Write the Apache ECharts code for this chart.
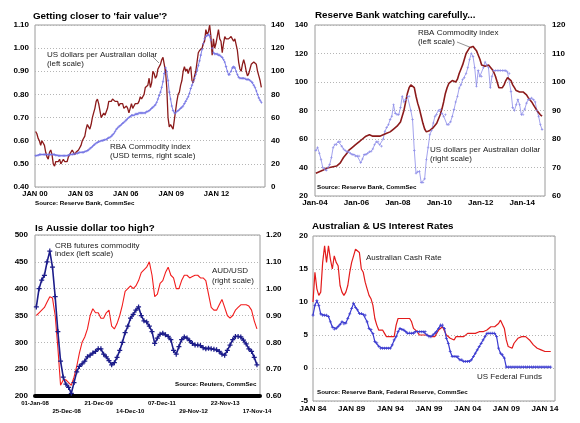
<!DOCTYPE html>
<html><head><meta charset="utf-8">
<script src="https://cdn.jsdelivr.net/npm/echarts@6/dist/echarts.min.js"></script>
<style>html,body{margin:0;padding:0;background:#fff}#c{width:580px;height:423px}</style>
</head><body><div id="c"></div>
<script>
// ---------- Panel 1: monthly, Jan 2000 - Dec 2014 ----------
const p1Start = 2000;
const p1Ticks = [2000, 2003, 2006, 2009, 2012];
const p1Aud = [
 .64,.63,.61,.60,.58,.60,.59,.58,.55,.53,.52,.55,
 .56,.54,.50,.49,.51,.51,.51,.52,.50,.50,.52,.51,
 .51,.51,.53,.54,.55,.56,.55,.54,.55,.55,.56,.56,
 .58,.60,.60,.62,.65,.67,.66,.65,.67,.70,.72,.74,
 .77,.78,.76,.73,.70,.70,.72,.71,.71,.74,.77,.77,
 .77,.78,.78,.77,.77,.77,.75,.76,.76,.76,.74,.74,
 .75,.74,.72,.74,.76,.74,.75,.76,.76,.76,.77,.79,
 .78,.78,.80,.83,.83,.84,.87,.83,.85,.90,.89,.87,
 .88,.91,.92,.93,.95,.96,.96,.90,.83,.70,.66,.67,
 .66,.65,.69,.73,.77,.80,.81,.84,.86,.90,.92,.90,
 .91,.89,.91,.92,.86,.85,.88,.90,.94,.98,.99,.99,
 1.00,1.02,1.03,1.08,1.06,1.07,1.10,1.05,.97,1.04,1.00,1.02,
 1.05,1.08,1.04,1.03,.98,1.02,1.05,1.04,1.04,1.04,1.04,1.05,
 1.05,1.03,1.04,1.04,.99,.94,.91,.90,.93,.95,.93,.90,
 .88,.89,.91,.93,.93,.94,.94,.93,.90,.88,.86,.83];
const p1Comm = [
 27,27,27.5,28,28,28,28,28,28,28,28,28,
 28,28,28,28,27.5,27.5,27,27,27,27,27,27,
 27,27,27.5,28,28,28,28.5,28.5,29,29,29.5,30,
 30,30,30,30.5,31,31.5,32,33,34,35,36,37,
 38,38.5,39,39.5,40,40,40.5,41,41,42,42.5,43,
 44,45,46,48,50,51,52,53,54,55,56,57,
 58,59,60,61,62,62,62,63,63,63,64,64,
 64,64,64,64,65,65,66,67,68,69,70,71,
 73,76,79,82,86,91,98,103,100,92,82,76,
 70,66,64,64,65,66,67,68,69,70,72,74,
 76,78,81,85,88,91,94,97,101,105,109,114,
 119,124,128,130,131,132,131,127,120,116,115,115,
 115,114,114,113,112,110,108,104,100,97,97,100,
 103,104,103,100,97,95,94,94,94,94,94,93,
 93,93,92,91,90,88,86,83,80,77,75,73];

// ---------- Panel 2: monthly, Jan 2004 - Dec 2014 ----------
const p2Start = 2004;
const p2Ticks = [2004, 2006, 2008, 2010, 2012, 2014];
const p2Rba = [
 36,36.5,37,37.5,38,39,39.5,40,40,40,40.5,41,
 41,42,43,45,47,48,50,52,53,54,55,56,
 57,58,59,60,61,62,63,63,63,62,62,62,
 62,62,62,63,63,64,65,65,66,67,68,69,
 70,72,76,80,86,92,96,98,99,96,90,85,
 81,76,71,67,65,65,66,67,68,69,71,74,
 77,81,86,92,96,99,100,101,101,100,102,106,
 109,112,116,120,122,124,125,125,124,122,119,116,
 112,111,111,112,112,111,109,107,104,100,96,95,
 96,98,101,103,103,101,98,96,94,94,93,93,
 93,92,91,89,88,86,84,82,80,79,77,76];
const p2Aud = [
 76,77,75,72.8,70,69.5,69,70,71,73.5,77,78,
 78,79,79,77.5,76.5,76,75.5,75.5,75,74.5,74.5,74,
 74,74,71.7,73,74.5,74.5,75,75.5,75.7,76.5,78,79,
 79,78,77.5,80,82.7,84,85,86.8,88,92,89,88.5,
 88.5,91,95,93,93.8,95,95,90,86.8,76,68,68.5,
 68.7,64.7,64.7,66,72.8,77,81.5,83,85.6,88,88.5,90,
 90.3,89,88,88.5,85,85,86,88,90.3,93,95,97.9,
 99,100.8,101.5,103,105,107.8,110,109,105,98.5,104,102,
 102,105,107,106,105,98,102,104,104,104,104,104,
 104,104,104,103.5,103,96.7,91,90,92,93.8,92,88.5,
 88.5,90.5,92.6,93.8,94,94.4,93.8,93,90,88,85,83.3];

// ---------- Panel 3: monthly, Jan 2008 - Nov 2014 ----------
const p3Start = 2008;
const p3TickLabels = ['01-Jan-08','25-Dec-08','21-Dec-09','14-Dec-10','07-Dec-11','29-Nov-12','22-Nov-13','17-Nov-14'];
const p3Crb = [
 366,400,416,425,450,470,440,385,320,265,235,222,
 216,205,225,245,255,260,265,273,276,280,283,288,
 288,278,273,266,258,262,272,285,300,318,330,345,
 352,360,366,350,340,338,330,320,298,308,315,317,
 314,311,305,285,278,292,305,310,308,303,298,295,
 295,294,290,288,289,288,287,286,283,278,276,285,
 295,305,311,311,310,304,297,288,283,272,258];
const p3Aud = [
 .90,.91,.92,.93,.95,.97,.965,.90,.78,.64,.66,.66,
 .65,.64,.67,.71,.76,.80,.82,.85,.90,.925,.91,.91,
 .89,.89,.91,.92,.86,.85,.87,.90,.94,.99,1.0,1.01,
 1.0,1.01,1.03,1.06,1.07,1.08,1.10,1.05,.97,.98,1.02,1.03,
 1.06,1.08,1.05,1.04,1.0,1.0,1.03,1.05,1.05,1.04,1.045,1.05,
 1.05,1.04,1.04,1.03,.98,.93,.92,.92,.94,.96,.93,.90,
 .89,.90,.92,.93,.94,.94,.94,.935,.92,.88,.85];

// ---------- Panel 4: quarterly, Q1 1984 - Q4 2014 ----------
const p4Start = 1984;
const p4Ticks = [1984, 1989, 1994, 1999, 2004, 2009, 2014];
const p4Aus = [
 10,14.5,12,11, 11.5,16,18.5,16, 18.5,16.5,15,17, 16,15.5,12.5,11.5,
 11,11.5,12.5,14.5, 16,17,18,18, 17.5,15,14.5,13, 12,11,10.5,9.5,
 7.5,6.5,5.75,5.75, 5.75,5.25,4.75,4.75, 4.75,4.75,4.75,6.5, 7.5,7.5,7.5,7.5,
 7.5,7.5,7.5,7.0, 6.0,6.0,5.5,5.0, 5.0,5.0,5.0,5.0, 4.75,4.75,4.75,4.75,
 5.0,5.75,6.0,6.25, 6.25,5.0,5.0,4.5, 4.25,4.25,4.75,4.75, 4.75,4.75,4.75,4.75,
 5.25,5.25,5.25,5.25, 5.25,5.5,5.5,5.5, 5.5,5.5,5.75,6.0, 6.25,6.25,6.25,6.5,
 6.75,7.25,7.25,6.0, 4.25,3.25,3.0,3.0, 3.75,4.0,4.5,4.5, 4.75,4.75,4.75,4.75,
 4.25,4.25,3.5,3.25, 3.0,3.0,2.75,2.5, 2.5,2.5,2.5,2.5];
const p4Us = [
 8,9.5,10.2,9.5, 8.2,8,8,8, 7.8,7,6.2,5.9, 6,6.3,6.6,7,
 6.7,6.8,7.5,8.2, 9,9.8,9.2,8.8, 8.25,8.25,8.1,8, 7,6,5.8,5.2,
 4,3.8,3.3,3, 3,3,3,3, 3,3.5,4.25,4.75, 5.5,6,5.85,5.75,
 5.5,5.25,5.3,5.25, 5.25,5.5,5.5,5.5, 5.5,5.5,5.5,5, 4.75,4.75,5,5.25,
 5.5,6,6.5,6.5, 6,4.5,3.75,2.5, 1.75,1.75,1.75,1.75, 1.25,1.25,1.0,1.0,
 1.0,1.0,1.25,1.75, 2.25,2.75,3.25,3.75, 4.25,4.75,5.25,5.25, 5.25,5.25,5.25,4.75,
 3.0,2.25,2.0,1.5, 0.15,0.15,0.15,0.15, 0.15,0.15,0.15,0.15, 0.15,0.15,0.15,0.15,
 0.15,0.15,0.15,0.15, 0.15,0.15,0.15,0.15, 0.15,0.15,0.15,0.15];

// ---------- helpers ----------
const FONT = 'Liberation Sans, Arial, sans-serif';
const monthly = (start, vals) => vals.map((v, i) => [start + (i + 0.5) / 12, v]);
const quarterly = (start, vals) => vals.map((v, i) => [start + i / 4, v]);
const MON = {Jan:0,Feb:1,Mar:2,Apr:3,May:4,Jun:5,Jul:6,Aug:7,Sep:8,Oct:9,Nov:10,Dec:11};
function decYear(s) {
  const [d, m, y] = s.split('-');
  const yr = 2000 + (+y);
  const t = Date.UTC(yr, MON[m], +d), t0 = Date.UTC(yr, 0, 1), t1 = Date.UTC(yr + 1, 0, 1);
  return yr + (t - t0) / (t1 - t0);
}
const p3TickPos = p3TickLabels.map(decYear);
const PLUS = 'path://M-1,-4H1V-1H4V1H1V4H-1V1H-4V-1H-1Z';
const grid = (l, t, w, h) => ({left: l, top: t, width: w, height: h, show: true, borderColor: '#9a9a9a', borderWidth: 1, backgroundColor: 'transparent'});
const lblStyle = {color: '#000', fontFamily: FONT, fontWeight: 'bold', fontSize: 8};
const split = {show: true, lineStyle: {color: '#b5b5b5', type: [1, 2], width: 1}};
function yAx(gi, min, max, interval, dec, pos, showSplit, margin) {
  return {type: 'value', gridIndex: gi, min, max, interval, position: pos,
    axisLine: {show: false}, axisTick: {show: false}, splitLine: showSplit ? split : {show: false},
    axisLabel: Object.assign({}, lblStyle, {margin: margin, formatter: v => dec ? v.toFixed(dec) : String(Math.round(v))})};
}
function xAx(gi, min, max, interval, ticks, fmt, margin, size) {
  return {type: 'value', gridIndex: gi, min, max, interval,
    axisLine: {show: false}, axisTick: {show: false}, splitLine: {show: false},
    axisLabel: Object.assign({}, lblStyle, {margin: margin, fontSize: size, showMaxLabel: false,
      formatter: v => ticks.some(t => Math.abs(t - v) < 1e-6) ? fmt(v) : ''})};
}
const yy = v => String(Math.round(v)).slice(2);
function txt(x, y, text, size, bold, align) {
  return {type: 'text', x, y, silent: true, style: {text, fill: bold ? '#000' : '#222', fontFamily: FONT,
    fontSize: size, fontWeight: bold ? 'bold' : 'normal', verticalAlign: 'middle', align: align || 'left'}};
}
function ln(x1, y1, x2, y2) {
  return {type: 'line', silent: true, shape: {x1, y1, x2, y2}, style: {stroke: '#777', lineWidth: 0.8}};
}

const chart = echarts.init(document.getElementById('c'), null, {renderer: 'canvas'});
chart.setOption({
  animation: false,
  backgroundColor: '#fff',
  textStyle: {fontFamily: FONT},
  grid: [grid(35, 25, 230, 162), grid(315, 25, 230, 171), grid(35, 235, 225, 161), grid(313, 236, 242, 165)],
  xAxis: [
    xAx(0, 2000, 2015.2, 3, p1Ticks, v => 'JAN ' + yy(v), 3, 7.5),
    xAx(1, 2004, 2015.1, 2, p2Ticks, v => 'Jan-' + yy(v), 3, 8),
    {type: 'value', gridIndex: 2, min: 2008, max: 2014.97,
      axisLine: {show: true, onZero: false, lineStyle: {color: '#000', width: 4}}, axisTick: {show: false}, splitLine: {show: false},
      axisLabel: Object.assign({}, lblStyle, {fontSize: 6, margin: 3, lineHeight: 8, customValues: p3TickPos,
        showMinLabel: true, showMaxLabel: true,
        formatter: v => { let k = 0; p3TickPos.forEach((p, i) => { if (Math.abs(p - v) < Math.abs(p3TickPos[k] - v)) k = i; });
          return (k % 2 ? '\n' : '') + p3TickLabels[k]; }})},
    xAx(3, 1984, 2015.3, 5, p4Ticks, v => 'JAN ' + yy(v), 4, 8)
  ],
  yAxis: [
    yAx(0, 0.4, 1.1, 0.1, 2, 'left', true, 6),
    yAx(0, 0, 140, 20, 0, 'right', false, 6),
    yAx(1, 20, 140, 20, 0, 'left', true, 7),
    yAx(1, 60, 120, 10, 0, 'right', false, 7),
    yAx(2, 200, 500, 50, 0, 'left', true, 7),
    yAx(2, 0.6, 1.2, 0.1, 2, 'right', false, 6),
    yAx(3, -5, 20, 5, 0, 'left', true, 5)
  ],
  series: [
    {type: 'line', xAxisIndex: 0, yAxisIndex: 1, data: monthly(p1Start, p1Comm), symbol: PLUS, symbolSize: 2.5, showSymbol: true,
      itemStyle: {color: '#7474e4'}, lineStyle: {color: '#7474e4', width: 0.9}},
    {type: 'line', xAxisIndex: 0, yAxisIndex: 0, data: monthly(p1Start, p1Aud), symbol: 'none',
      lineStyle: {color: '#8b1a1a', width: 1.3}},
    {type: 'line', xAxisIndex: 1, yAxisIndex: 3, data: monthly(p2Start, p2Aud), symbol: PLUS, symbolSize: 2.5, showSymbol: true,
      itemStyle: {color: '#8c8ce8'}, lineStyle: {color: '#8c8ce8', width: 0.8}},
    {type: 'line', xAxisIndex: 1, yAxisIndex: 2, data: monthly(p2Start, p2Rba), symbol: 'none',
      lineStyle: {color: '#8b1a1a', width: 1.6}},
    {type: 'line', xAxisIndex: 2, yAxisIndex: 5, data: monthly(p3Start, p3Aud), symbol: 'none',
      lineStyle: {color: '#f21d1d', width: 1.1}},
    {type: 'line', xAxisIndex: 2, yAxisIndex: 4, data: monthly(p3Start, p3Crb), symbol: PLUS, symbolSize: 5, showSymbol: true,
      itemStyle: {color: '#1c1c8a'}, lineStyle: {color: '#1c1c8a', width: 1.6}},
    {type: 'line', xAxisIndex: 3, yAxisIndex: 6, data: quarterly(p4Start, p4Aus), symbol: 'none',
      lineStyle: {color: '#e31b1b', width: 1.2}},
    {type: 'line', xAxisIndex: 3, yAxisIndex: 6, data: quarterly(p4Start, p4Us), symbol: PLUS, symbolSize: 3, showSymbol: true,
      itemStyle: {color: '#3b3bd0'}, lineStyle: {color: '#3b3bd0', width: 1.2}}
  ],
  graphic: [
    txt(33, 16, "Getting closer to 'fair value'?", 9.8, true),
    txt(315, 15, 'Reserve Bank watching carefully...', 9.8, true),
    txt(35, 228, 'Is Aussie dollar too high?', 9.8, true),
    txt(312, 226, 'Australian & US Interest Rates', 9.8, true),
    txt(47, 55, 'US dollars per Australian dollar', 8), txt(47, 64, '(left scale)', 8),
    ln(153, 57, 159, 63),
    txt(110, 147, 'RBA Commodity index', 8), txt(110, 156, '(USD terms, right scale)', 8),
    txt(35, 203, 'Source: Reserve Bank, CommSec', 6.2, true),
    txt(418, 33, 'RBA Commodity index', 8), txt(418, 42, '(left scale)', 8),
    ln(457, 42, 472, 48),
    txt(430, 150, 'US dollars per Australian dollar', 8), txt(430, 159, '(right scale)', 8),
    txt(317, 187, 'Source: Reserve Bank, CommSec', 6.2, true),
    txt(55, 246, 'CRB futures commodity', 8), txt(55, 254, 'index (left scale)', 8),
    txt(212, 271, 'AUD/USD', 8), txt(212, 281, '(right scale)', 8),
    txt(175, 384, 'Source: Reuters, CommSec', 6.2, true),
    txt(366, 258, 'Australian Cash Rate', 8),
    txt(477, 377, 'US Federal Funds', 8),
    txt(317, 392, 'Source: Reserve Bank, Federal Reserve, CommSec', 6.2, true)
  ]
});
</script></body></html>
